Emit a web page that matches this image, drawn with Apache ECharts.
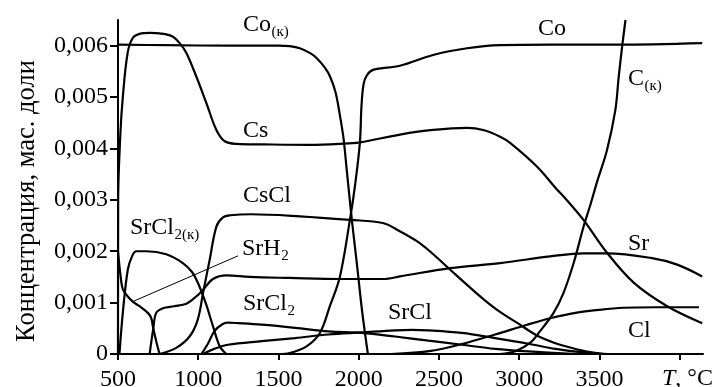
<!DOCTYPE html>
<html>
<head>
<meta charset="utf-8">
<script src="https://cdn.jsdelivr.net/npm/echarts@6/dist/echarts.min.js"></script>
<style>
html,body{margin:0;padding:0;background:#fff;}
#chart{width:712px;height:387px;}
</style>
</head>
<body>
<div id="chart"></div>
<script>
// Values: [T (°C), concentration in units of 0.001 mass fraction]
const coCond   = [[500,6.02],[800,6.01],[1200,6.0],[1500,6.0],[1570,5.99],[1633,5.95],[1700,5.85],[1737,5.76],[1790,5.57],[1821,5.40],[1855,5.1],[1884,4.62],[1905,4.2],[1925,3.59],[1957,2.61],[1989,1.74],[2020,0.86],[2057,0]];
const coGas    = [[1500,0],[1570,0.02],[1675,0.15],[1758,0.41],[1820,0.93],[1883,1.51],[1945,2.61],[1976,3.26],[2007,4.11],[2017,4.82],[2030,5.25],[2050,5.42],[2089,5.53],[2257,5.61],[2463,5.82],[2675,5.95],[2881,6.01],[3193,6.02],[3611,6.02],[4140,6.05]];
const cCond    = [[2880,0],[2980,0.06],[3069,0.22],[3131,0.45],[3214,0.80],[3276,1.19],[3339,1.77],[3401,2.48],[3443,2.9],[3485,3.35],[3547,3.97],[3599,4.75],[3620,5.40],[3641,5.98],[3662,6.5]];
const cs       = [[500,0],[501,3.0],[515,4.3],[530,5.0],[560,5.86],[592,6.15],[634,6.23],[700,6.25],[759,6.24],[840,6.18],[884,6.05],[926,5.86],[988,5.40],[1051,4.88],[1113,4.36],[1165,4.14],[1238,4.09],[1400,4.08],[1695,4.07],[1884,4.09],[2007,4.12],[2257,4.27],[2463,4.36],[2675,4.40],[2775,4.36],[2881,4.23],[2943,4.11],[3110,3.65],[3235,3.20],[3275,3.07],[3400,2.61],[3547,1.97],[3713,1.39],[3922,0.93],[4140,0.60]];
const csCl     = [[760,0],[863,0.12],[946,0.34],[997,0.67],[1030,1.19],[1071,1.83],[1113,2.48],[1154,2.66],[1200,2.70],[1330,2.72],[1633,2.68],[1945,2.61],[2150,2.55],[2250,2.40],[2360,2.20],[2450,1.98],[2570,1.64],[2680,1.33],[2780,1.06],[2880,0.82],[2990,0.60],[3110,0.36],[3200,0.24],[3300,0.14],[3400,0.06],[3520,0]];
const srCl2Cond= [[509,0],[530,0.8],[561,1.64],[590,1.92],[614,2.0],[676,2.0],[801,1.94],[904,1.77],[960,1.6],[988,1.45],[1020,1.22],[1051,0.95],[1092,0.54],[1134,0.15],[1175,0]];
const srH2     = [[500,2.0],[515,1.55],[530,1.26],[561,1.12],[592,1.02],[634,0.93],[686,0.80],[707,0.70],[717,0.54],[738,0.25],[759,0]];
const sr       = [[697,0],[720,0.5],[738,0.8],[780,0.89],[850,0.93],[926,0.98],[988,1.12],[1030,1.25],[1092,1.46],[1175,1.53],[1321,1.50],[1570,1.48],[1883,1.46],[2153,1.46],[2257,1.51],[2569,1.67],[2881,1.77],[3193,1.90],[3401,1.96],[3547,1.96],[3819,1.87],[3984,1.74],[4140,1.51]];
const srCl2Gas = [[1020,0],[1060,0.2],[1102,0.45],[1150,0.58],[1185,0.61],[1250,0.6],[1395,0.57],[1603,0.51],[1811,0.44],[2019,0.41],[2226,0.34],[2434,0.26],[2642,0.18],[2850,0.10],[3058,0.05],[3300,0.01],[3450,0]];
const srCl     = [[1030,0],[1100,0.1],[1185,0.18],[1395,0.25],[1603,0.31],[1811,0.38],[2019,0.42],[2226,0.46],[2330,0.47],[2434,0.46],[2642,0.41],[2850,0.31],[3058,0.2],[3225,0.1],[3400,0.03],[3550,0]];
const cl       = [[2200,0],[2450,0.06],[2650,0.2],[2850,0.38],[3050,0.57],[3200,0.70],[3350,0.80],[3500,0.86],[3650,0.90],[3850,0.91],[4120,0.91]];
const srH2Pointer = [[592,1.02],[1248,1.91]];

const xTickValues = [500,1000,1500,2000,2500,3000,3500,4000];
const xLabelValues = [500,1000,1500,2000,2500,3000,3500];
const yTickValues = [0,0.001,0.002,0.003,0.004,0.005,0.006];
const yAxisTitle = 'Концентрация, мас. доли';
// curve labels: main text, subscript
const curveLabels = [
  ['Co', '(к)'], ['Co', ''], ['C', '(к)'], ['Cs', ''], ['CsCl', ''], ['SrCl', '2(к)'],
  ['SrH', '2'], ['SrCl', '2'], ['SrCl', ''], ['Sr', ''], ['Cl', '']
];
// label anchor (left x, middle y) in pixels
const labelPos = [[243,25],[538,29],[628,79],[243,131],[243,196],[130,228],[242,249],[243,304],[388,313],[628,244],[628,331]];

const FONT = '"Liberation Serif", "Times New Roman", serif';
const UNIT = 0.001;
const MAIN = 24, SUB = 15;
const toSeries = arr => arr.map(p => [p[0], p[1] * UNIT]);

const allSeries = [coCond, coGas, cCond, cs, csCl, srCl2Cond, srH2, sr, srCl2Gas, srCl, cl];

const chart = echarts.init(document.getElementById('chart'), null, {renderer: 'canvas'});

const series = allSeries.map((d) => {
  const s = {
    type: 'line',
    data: toSeries(d),
    showSymbol: false,
    smooth: 0.35,
    lineStyle: {color: '#000', width: 2.2},
    itemStyle: {color: '#000'},
    clip: true,
    z: 3,
    silent: true
  };
  if (d === srH2) {
    s.markLine = {
      silent: true,
      symbol: ['none', 'none'],
      label: {show: false},
      lineStyle: {color: '#000', width: 1, type: 'solid'},
      data: [[{coord: [srH2Pointer[0][0], srH2Pointer[0][1] * UNIT]}, {coord: [srH2Pointer[1][0], srH2Pointer[1][1] * UNIT]}]]
    };
  }
  return s;
});

const measureCtx = document.createElement('canvas').getContext('2d');
function textWidth(t, size) {
  measureCtx.font = size + 'px ' + FONT;
  return measureCtx.measureText(t).width;
}
function txt(x, y, text, size, extra) {
  return Object.assign({
    type: 'text', x: x, y: y, silent: true,
    style: {text: text, font: size + 'px ' + FONT, fill: '#000',
            align: 'left', verticalAlign: 'middle', textAlign: 'left', textVerticalAlign: 'middle'}
  }, extra || {});
}

const graphics = [];
curveLabels.forEach((lab, i) => {
  const p = labelPos[i];
  graphics.push(txt(p[0], p[1], lab[0], MAIN));
  if (lab[1]) graphics.push(txt(p[0] + textWidth(lab[0], MAIN) + 0.5, p[1] + 7, lab[1], SUB));
});
graphics.push({
  type: 'text', x: 662, y: 379, silent: true,
  style: {text: '{i|T}, °C', font: MAIN + 'px ' + FONT, fill: '#000', align: 'left', verticalAlign: 'middle',
          textAlign: 'left', textVerticalAlign: 'middle',
          rich: {i: {fontStyle: 'italic', fontFamily: FONT, fontSize: MAIN}}}
});
graphics.push({
  type: 'text', x: 27, y: 201, rotation: Math.PI / 2, silent: true,
  style: {text: yAxisTitle, font: '26.5px ' + FONT, fill: '#000', align: 'center', verticalAlign: 'middle',
          textAlign: 'center', textVerticalAlign: 'middle'}
});

chart.setOption({
  animation: false,
  backgroundColor: '#fff',
  grid: {left: 118, top: 20, right: 9, bottom: 33, containLabel: false, outerBoundsMode: 'none'},
  xAxis: {
    type: 'value', min: 500, max: 4145, interval: 500,
    axisLine: {show: true, lineStyle: {color: '#000', width: 2}},
    axisTick: {show: true, inside: false, length: 6, lineStyle: {color: '#000', width: 2}, customValues: xTickValues},
    axisLabel: {show: true, margin: 14, color: '#000', fontFamily: FONT, fontSize: MAIN, customValues: xLabelValues,
                formatter: v => String(v)},
    splitLine: {show: false}
  },
  yAxis: {
    type: 'value', min: 0, max: 0.0065, interval: 0.001,
    axisLine: {show: true, lineStyle: {color: '#000', width: 2}},
    axisTick: {show: true, inside: false, length: 8, lineStyle: {color: '#000', width: 2}, customValues: yTickValues},
    axisLabel: {show: true, margin: 10, color: '#000', fontFamily: FONT, fontSize: MAIN, customValues: yTickValues,
                formatter: v => v === 0 ? '0' : v.toFixed(3).replace('.', ',')},
    splitLine: {show: false}
  },
  series: series,
  graphic: graphics
});
</script>
</body>
</html>
